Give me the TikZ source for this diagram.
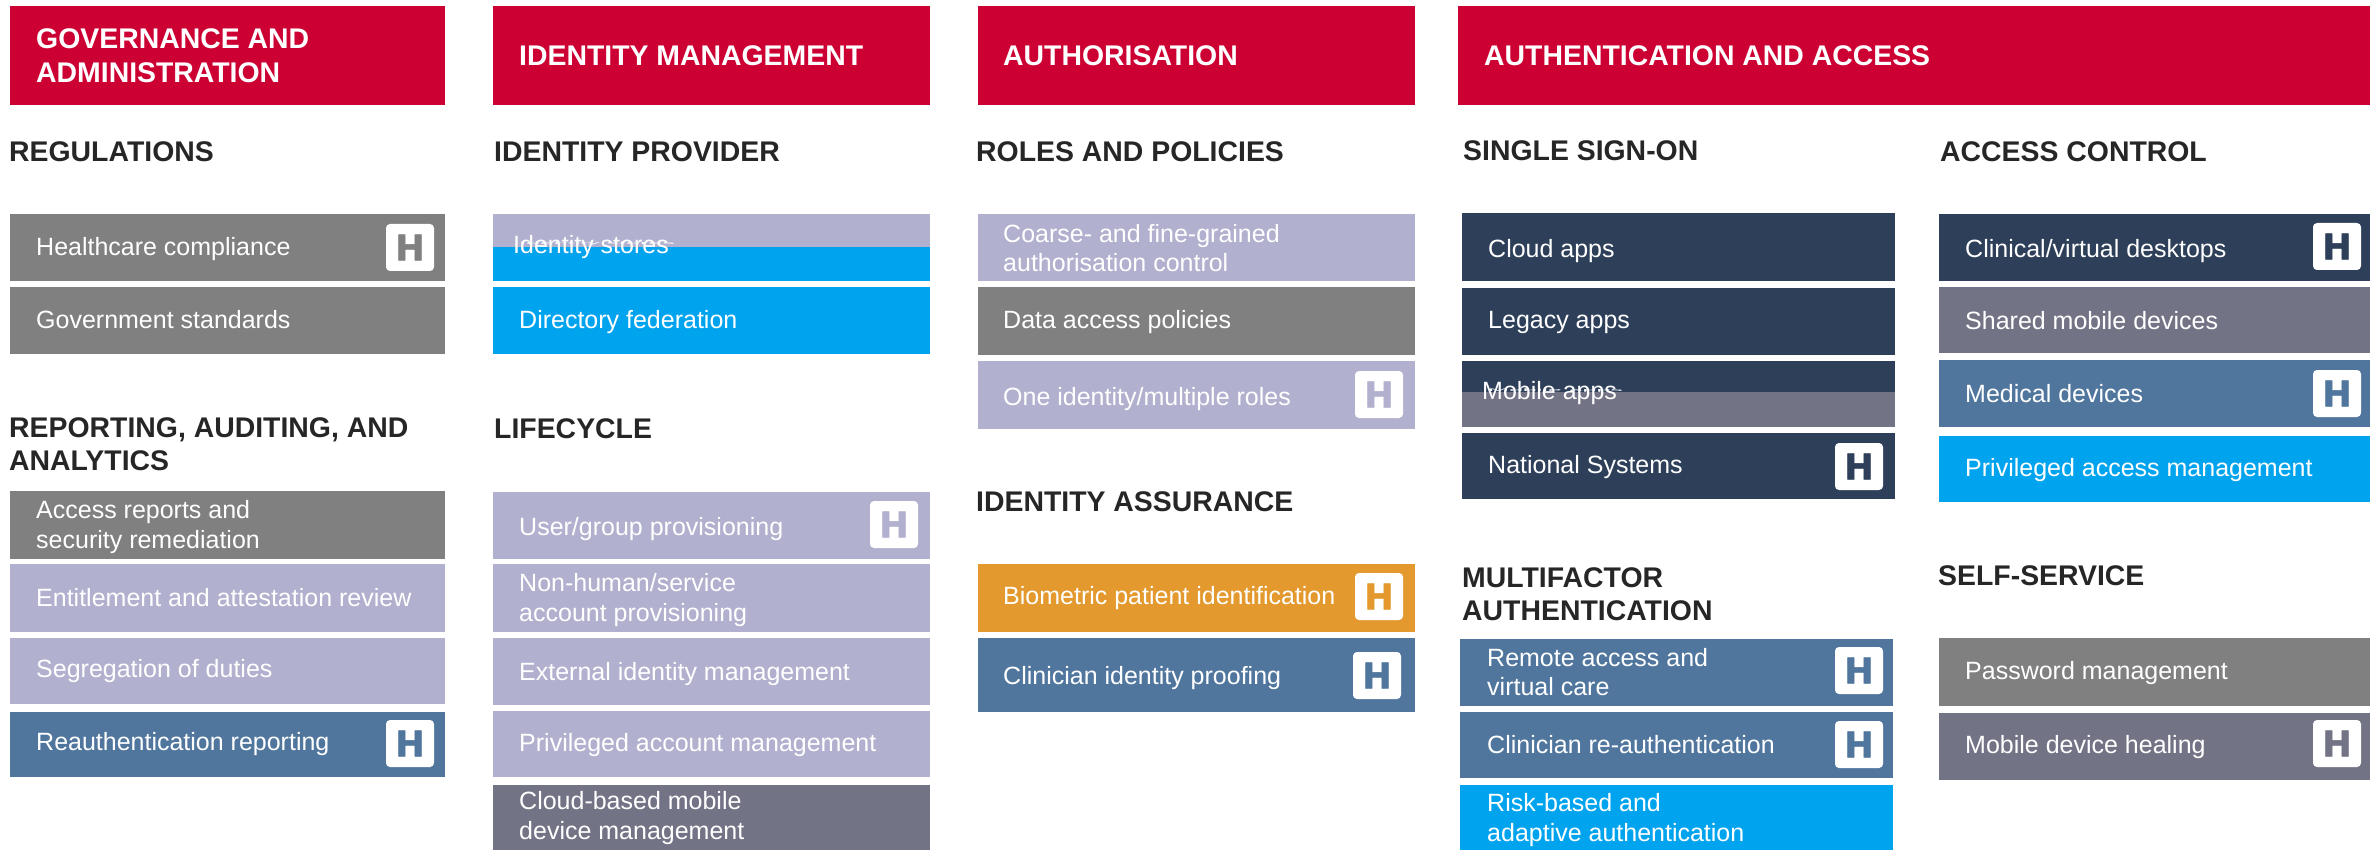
\documentclass[tikz,border=0pt]{standalone}
\usepackage{fontspec}
\setmainfont{Liberation Sans}
\newfontfamily\iconfont[FakeBold=1.5]{DejaVu Sans Bold}
\definecolor{cRed}{HTML}{CC0033}
\definecolor{cGrey}{HTML}{808080}
\definecolor{cLilac}{HTML}{B1B0CE}
\definecolor{cCyan}{HTML}{00A3EE}
\definecolor{cNavy}{HTML}{2D3F59}
\definecolor{cSteel}{HTML}{50769E}
\definecolor{cSlate}{HTML}{737386}
\definecolor{cOrange}{HTML}{E3992E}
\definecolor{cInk}{HTML}{262626}
\tikzset{
  bodytext/.style={text=white,inner sep=0pt,align=left,font=\fontsize{25}{29.5}\selectfont},
  headtext/.style={text=cInk,inner sep=0pt,align=left,font=\fontsize{28.4}{33}\selectfont\bfseries},
  bantext/.style={text=white,inner sep=0pt,align=left,font=\fontsize{28.4}{34}\selectfont\bfseries},
  iconbox/.style={fill=white,rounded corners=4pt},
  icontext/.style={inner sep=0pt,font=\fontsize{35}{35}\selectfont\iconfont}
}
% #1 x1, #2 y1, #3 x2, #4 y2, #5 colour, #6 text x, #7 text y, #8 text
\newcommand{\rowbox}[8]{\fill[#5] (#1,#2) rectangle (#3,#4);
  \node[bodytext,anchor=west] at (#6,#7) {#8};}
\newcommand{\banner}[5]{\fill[cRed] (#1,6) rectangle (#2,105);
  \node[bantext,anchor=west] at (#3,#4) {#5};}
\newcommand{\heading}[3]{\node[headtext,anchor=west] at (#1,#2) {#3};}
% #1 x, #2 y, #3 colour
\newcommand{\hicon}[3]{\fill[iconbox] (#1,#2) rectangle ++(48,47);
  \node[icontext,text=#3] at (#1+24,#2+23.5) {H};}
\newcommand{\strike}[3]{\begin{scope}[shift={(#1,#2)},yscale=.15,transform shape]
  \node[bodytext,anchor=mid west] at (0,0) {#3};\end{scope}}
\begin{document}
\begin{tikzpicture}[x=1pt,y=-1pt]
\useasboundingbox (0,0) rectangle (2370,850);
\fill[white] (0,0) rectangle (2370,850);
% banners
\banner{10}{445}{36}{56}{GOVERNANCE AND\\ADMINISTRATION}
\banner{493}{930}{519}{56}{IDENTITY MANAGEMENT}
\banner{978}{1415}{1003}{56}{AUTHORISATION}
\banner{1458}{2370}{1484}{56}{AUTHENTICATION AND ACCESS}
% headings
\heading{9}{152}{REGULATIONS}
\heading{9}{444}{REPORTING, AUDITING, AND\\ANALYTICS}
\heading{494}{152}{IDENTITY PROVIDER}
\heading{494}{429}{LIFECYCLE}
\heading{976}{152}{ROLES AND POLICIES}
\heading{976}{502}{IDENTITY ASSURANCE}
\heading{1463}{151}{SINGLE SIGN-ON}
\heading{1462}{594}{MULTIFACTOR\\AUTHENTICATION}
\heading{1940}{152}{ACCESS CONTROL}
\heading{1938}{576}{SELF-SERVICE}
% column 1
\rowbox{10}{214}{445}{281}{cGrey}{36}{249}{Healthcare compliance}
\hicon{386}{224}{cGrey}
\rowbox{10}{287}{445}{354}{cGrey}{36}{320}{Government standards}
\rowbox{10}{491}{445}{559}{cGrey}{36}{527}{Access reports and\\security remediation}
\rowbox{10}{564}{445}{632}{cLilac}{36}{598}{Entitlement and attestation review}
\rowbox{10}{638}{445}{704}{cLilac}{36}{671}{Segregation of duties}
\rowbox{10}{712}{445}{777}{cSteel}{36}{744}{Reauthentication reporting}
\hicon{386}{720}{cSteel}
% column 2
\fill[cCyan] (493,214) rectangle (930,281);
\fill[cLilac] (493,214) rectangle (930,247);
\node[bodytext,anchor=west] (idstores) at (513,247) {Identity stores};
\strike{519}{244}{Identity stores}
\rowbox{493}{287}{930}{354}{cCyan}{519}{322}{Directory federation}
\rowbox{493}{492}{930}{559}{cLilac}{519}{529}{User/group provisioning}
\hicon{870}{501}{cLilac}
\rowbox{493}{564}{930}{632}{cLilac}{519}{600}{Non-human/service\\account provisioning}
\rowbox{493}{638}{930}{705}{cLilac}{519}{674}{External identity management}
\rowbox{493}{711}{930}{777}{cLilac}{519}{745}{Privileged account management}
\rowbox{493}{785}{930}{850}{cSlate}{519}{818}{Cloud-based mobile\\device management}
% column 3
\rowbox{978}{214}{1415}{281}{cLilac}{1003}{248}{Coarse- and fine-grained\\authorisation control}
\rowbox{978}{287}{1415}{355}{cGrey}{1003}{322}{Data access policies}
\rowbox{978}{361}{1415}{429}{cLilac}{1003}{399}{One identity/multiple roles}
\hicon{1355}{371}{cLilac}
\rowbox{978}{564}{1415}{632}{cOrange}{1003}{598}{Biometric patient identification}
\hicon{1355}{573}{cOrange}
\rowbox{978}{638}{1415}{712}{cSteel}{1003}{678}{Clinician identity proofing}
\hicon{1353}{652}{cSteel}
% column 4
\rowbox{1462}{213}{1895}{281}{cNavy}{1488}{251}{Cloud apps}
\rowbox{1462}{288}{1895}{355}{cNavy}{1488}{322}{Legacy apps}
\fill[cSlate] (1462,361) rectangle (1895,427);
\fill[cNavy] (1462,361) rectangle (1895,392);
\node[bodytext,anchor=west] (mobapps) at (1482,393) {Mobile apps};
\strike{1488}{391}{Mobile apps}
\rowbox{1462}{433}{1895}{499}{cNavy}{1488}{467}{National Systems}
\hicon{1835}{443}{cNavy}
\rowbox{1460}{639}{1893}{706}{cSteel}{1487}{672}{Remote access and\\virtual care}
\hicon{1835}{647}{cSteel}
\rowbox{1460}{712}{1893}{778}{cSteel}{1487}{745}{Clinician re-authentication}
\hicon{1835}{721}{cSteel}
\rowbox{1460}{785}{1893}{850}{cCyan}{1487}{820}{Risk-based and\\adaptive authentication}
% column 5
\rowbox{1939}{214}{2370}{281}{cNavy}{1965}{251}{Clinical/virtual desktops}
\hicon{2313}{223}{cNavy}
\rowbox{1939}{287}{2370}{353}{cSlate}{1965}{321}{Shared mobile devices}
\rowbox{1939}{360}{2370}{427}{cSteel}{1965}{394}{Medical devices}
\hicon{2313}{370}{cSteel}
\rowbox{1939}{436}{2370}{502}{cCyan}{1965}{470}{Privileged access management}
\rowbox{1939}{638}{2370}{706}{cGrey}{1965}{673}{Password management}
\rowbox{1939}{713}{2370}{780}{cSlate}{1965}{747}{Mobile device healing}
\hicon{2313}{720}{cSlate}
\end{tikzpicture}
\end{document}
